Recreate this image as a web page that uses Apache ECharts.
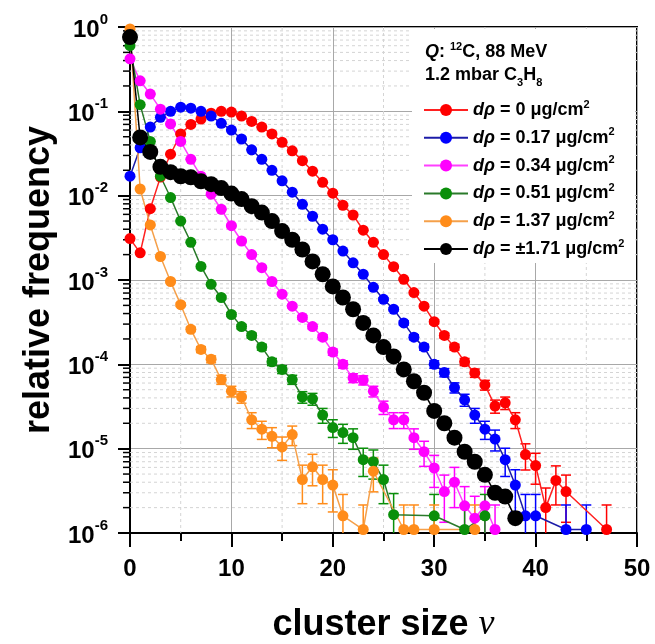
<!DOCTYPE html>
<html>
<head>
<meta charset="utf-8">
<title>cluster size distribution</title>
<script src="https://cdn.jsdelivr.net/npm/echarts@6/dist/echarts.min.js"></script>
<style>
  html, body { margin: 0; padding: 0; background: #fff; }
  #chart { width: 655px; height: 644px; }
</style>
</head>
<body>
<div id="chart"></div>
<script>
// cluster size nu (index into the value arrays below)
const clusterSizes = [0, 1, 2, 3, 4, 5, 6, 7, 8, 9, 10, 11, 12, 13, 14, 15, 16, 17, 18, 19,
  20, 21, 22, 23, 24, 25, 26, 27, 28, 29, 30, 31, 32, 33, 34, 35, 36, 37, 38, 39,
  40, 41, 42, 43, 44, 45, 46, 47];

// relative frequency for each d_rho, null = no event at that cluster size
const freq0 = [3.1e-3, 2.1e-3, 7.0e-3, 1.66e-2, 3.1e-2, 5.4e-2, 7.0e-2, 8.1e-2, 9.5e-2, 1.0e-1,
  9.8e-2, 8.8e-2, 7.6e-2, 6.5e-2, 5.4e-2, 4.3e-2, 3.4e-2, 2.6e-2, 1.95e-2, 1.44e-2,
  1.07e-2, 7.7e-3, 5.9e-3, 3.9e-3, 2.8e-3, 2.0e-3, 1.44e-3, 1.02e-3, 7.1e-4, 4.9e-4,
  3.2e-4, 2.2e-4, 1.6e-4, 1.07e-4, 7.9e-5, 5.7e-5, 3.2e-5, 3.5e-5, 2.2e-5, 8.5e-6,
  6.3e-6, 2.0e-6, 4.2e-6, 3.1e-6, null, null, null, 1.1e-6];
const freq017 = [1.7e-2, 3.7e-2, 6.5e-2, 8.5e-2, 1.0e-1, 1.12e-1, 1.09e-1, 1.0e-1, 8.8e-2, 7.2e-2,
  6.0e-2, 4.7e-2, 3.5e-2, 2.7e-2, 2.0e-2, 1.5e-2, 1.1e-2, 7.9e-3, 5.7e-3, 4.0e-3,
  3.0e-3, 2.2e-3, 1.6e-3, 1.17e-3, 8.2e-4, 5.9e-4, 4.5e-4, 3.1e-4, 2.1e-4, 1.6e-4,
  1.0e-4, 8.0e-5, 5.3e-5, 3.8e-5, 2.5e-5, 1.7e-5, 1.3e-5, 7.4e-6, 3.7e-6, 1.6e-6,
  1.6e-6, null, null, 1.1e-6, null, 1.1e-6];
const freq034 = [0.42, 0.23, 0.16, 0.106, 0.071, 0.044, 0.027, 0.017, 1.04e-2, 6.9e-3,
  4.4e-3, 2.9e-3, 2.0e-3, 1.4e-3, 9.6e-4, 6.8e-4, 4.9e-4, 3.6e-4, 2.8e-4, 2.1e-4,
  1.4e-4, 1.0e-4, 6.9e-5, 6.5e-5, 4.8e-5, 3.1e-5, 2.2e-5, 2.2e-5, 1.35e-5, 9.2e-6,
  5.9e-6, 3.1e-6, 4.0e-6, 2.1e-6, 1.5e-6, 2.1e-6, 1.1e-6];
const freq051 = [0.6, 0.12, 0.044, 0.017, 9.5e-3, 5.0e-3, 2.8e-3, 1.45e-3, 8.9e-4, 6.2e-4,
  3.9e-4, 2.8e-4, 2.2e-4, 1.6e-4, 1.07e-4, 8.7e-5, 6.6e-5, 4.1e-5, 3.9e-5, 2.5e-5,
  1.78e-5, 1.55e-5, 1.35e-5, 7.4e-6, 7.0e-6, 4.3e-6, 1.65e-6, null, null, null,
  1.6e-6, null, null, 1.1e-6, null, 1.6e-6];
const freq137 = [0.95, 1.2e-2, 4.5e-3, 1.9e-3, 9.6e-4, 5.1e-4, 2.6e-4, 1.5e-4, 1.15e-4, 6.6e-5,
  4.8e-5, 4.1e-5, 2.2e-5, 1.7e-5, 1.4e-5, 1.05e-5, 1.47e-5, 4.3e-6, 6.1e-6, 4.3e-6,
  3.7e-6, 1.6e-6, null, 1.1e-6, 5.4e-6, null, null, 1.1e-6, 1.1e-6, null,
  1.1e-6, null, null, null, 1.1e-6];
const freq171 = [0.76, 0.049, 0.033, 0.022, 0.019, 0.017, 0.0165, 0.0148, 0.0137, 0.0123,
  0.0106, 0.0091, 0.0075, 0.0063, 0.0050, 3.8e-3, 3.0e-3, 2.3e-3, 1.66e-3, 1.17e-3,
  8.4e-4, 6.2e-4, 4.5e-4, 3.1e-4, 2.2e-4, 1.6e-4, 1.24e-4, 8.7e-5, 6.3e-5, 4.6e-5,
  2.8e-5, 2.0e-5, 1.35e-5, 9.2e-6, 7.0e-6, 4.9e-6, 3.0e-6, 2.7e-6, 1.5e-6];

const densityLabels = ['0', '0.17', '0.34', '0.51', '1.37', '\u00b11.71'];
const xMinorTicks = [5, 15, 25, 35, 45];
const yDecades = [1e-6, 1e-5, 1e-4, 1e-3, 1e-2, 1e-1];
const yMinorSteps = [2, 3, 4, 5, 6, 7, 8, 9];

// one event ~ 1e-6, error bars are counting statistics
const oneEvent = 1e-6;

const FONT = '"Liberation Sans", Arial, Helvetica, sans-serif';

const sets = [
  { values: freq0,   color: '#ff0000', line: '#ff2020', size: 11, err: true },
  { values: freq017, color: '#0000ff', line: '#1c1ca8', size: 11, err: true },
  { values: freq034, color: '#ff00ff', line: '#ff40ff', size: 11, err: true },
  { values: freq051, color: '#0a8f0a', line: '#2a7a2a', size: 11, err: true },
  { values: freq137, color: '#ff8c1a', line: '#f5a04a', size: 11, err: true },
  { values: freq171, color: '#000000', line: '#000000', size: 16, err: false }
];

function seriesName(i) {
  return 'd\u03c1 = ' + densityLabels[i] + ' \u03bcg/cm2';
}

function points(values) {
  const out = [];
  values.forEach((v, i) => {
    if (v != null) out.push([clusterSizes[i], v]);
  });
  return out;
}

function errorBars(set, i) {
  const items = points(set.values).map(p => {
    const s = Math.sqrt(p[1] * oneEvent);
    return [p[0], p[1], Math.max(p[1] - s, 1e-8), p[1] + s];
  });
  return {
    type: 'custom',
    name: 'err' + i,
    clip: true,
    silent: true,
    z: 2,
    encode: { x: 0, y: 1 },
    renderItem: function (params, api) {
      const x = api.value(0);
      const lo = api.coord([x, api.value(2)]);
      const hi = api.coord([x, api.value(3)]);
      const w = 5;
      const style = { stroke: set.color, lineWidth: 1.5, fill: null };
      return {
        type: 'group',
        children: [
          { type: 'line', shape: { x1: lo[0], y1: lo[1], x2: hi[0], y2: hi[1] }, style: style },
          { type: 'line', shape: { x1: hi[0] - w, y1: hi[1], x2: hi[0] + w, y2: hi[1] }, style: style },
          { type: 'line', shape: { x1: lo[0] - w, y1: lo[1], x2: lo[0] + w, y2: lo[1] }, style: style }
        ]
      };
    },
    data: items
  };
}

let yMinor = [];
yDecades.forEach(d => yMinorSteps.forEach(m => yMinor.push(d * m)));

const series = [];

// minor grid lines + minor ticks on the log axis (2..9 of each decade)
series.push({
  type: 'custom',
  silent: true,
  clip: false,
  z: 1,
  encode: { x: 0, y: 1 },
  renderItem: function (params, api) {
    const p = api.coord([0, api.value(1)]);
    const cs = params.coordSys;
    return {
      type: 'group',
      children: [
        { type: 'line', shape: { x1: cs.x, y1: p[1], x2: cs.x + cs.width, y2: p[1] },
          style: { stroke: '#d4d4d4', lineWidth: 1, lineDash: [3, 3] } },
        { type: 'line', shape: { x1: cs.x - 7, y1: p[1], x2: cs.x, y2: p[1] },
          style: { stroke: '#000', lineWidth: 1.5 } }
      ]
    };
  },
  data: yMinor.map(v => [0, v])
});

// minor grid lines along x
series.push({
  type: 'custom',
  silent: true,
  clip: false,
  z: 1,
  encode: { x: 0, y: 1 },
  renderItem: function (params, api) {
    const p = api.coord([api.value(0), 1]);
    const cs = params.coordSys;
    return {
      type: 'line',
      shape: { x1: p[0], y1: cs.y, x2: p[0], y2: cs.y + cs.height },
      style: { stroke: '#d4d4d4', lineWidth: 1, lineDash: [3, 3] }
    };
  },
  data: xMinorTicks.map(v => [v, 1])
});

sets.forEach((set, i) => {
  if (set.err) series.push(errorBars(set, i));
  series.push({
    name: seriesName(i),
    type: 'line',
    data: points(set.values),
    symbol: 'circle',
    symbolSize: set.size,
    showAllSymbol: true,
    clip: true,
    z: 3,
    lineStyle: { color: set.line, width: 1.5 },
    itemStyle: { color: set.color },
    emphasis: { disabled: true },
    animation: false
  });
});

const chart = echarts.init(document.getElementById('chart'), null, { renderer: 'canvas' });

const option = {
  animation: false,
  backgroundColor: '#fff',
  textStyle: { fontFamily: FONT },
  grid: {
    left: 130, right: 18, top: 27, bottom: 111,
    outerBoundsMode: 'none',
    containLabel: false,
    show: true, borderColor: '#000', borderWidth: 2
  },
  legend: {
    data: sets.map((s, i) => seriesName(i)),
    orient: 'vertical',
    left: 418,
    top: 94,
    itemWidth: 44,
    itemHeight: 15,
    itemGap: 7.8,
    selectedMode: false,
    z: 6,
    formatter: function (name) {
      const i = sets.findIndex((s, k) => seriesName(k) === name);
      return '{i|d\u03c1}{t| = ' + densityLabels[i] + ' \u03bcg/cm}{s|2}';
    },
    textStyle: {
      color: '#000',
      fontSize: 18,
      fontWeight: 'bold',
      fontFamily: FONT,
      rich: {
        i: { fontSize: 18, fontWeight: 'bold', fontStyle: 'italic', fontFamily: FONT, color: '#000', lineHeight: 22 },
        t: { fontSize: 18, fontWeight: 'bold', fontFamily: FONT, color: '#000', lineHeight: 22 },
        s: { fontSize: 11, fontWeight: 'bold', fontFamily: FONT, color: '#000', verticalAlign: 'top', lineHeight: 12 }
      }
    }
  },
  graphic: [
    {
      // white box behind the legend, hides the grid there
      type: 'rect', z: 2.5, silent: true,
      shape: { x: 412, y: 29, width: 223, height: 234 },
      style: { fill: '#fff' }
    },
    {
      type: 'text', left: 425, top: 41, z: 7, silent: true,
      style: {
        text: '{q|Q}{t|: }{s|12}{t|C, 88 MeV}',
        rich: {
          q: { fontSize: 18, fontWeight: 'bold', fontStyle: 'italic', fontFamily: FONT, fill: '#000', lineHeight: 22 },
          t: { fontSize: 18, fontWeight: 'bold', fontFamily: FONT, fill: '#000', lineHeight: 22 },
          s: { fontSize: 11, fontWeight: 'bold', fontFamily: FONT, fill: '#000', verticalAlign: 'top', lineHeight: 12 }
        }
      }
    },
    {
      type: 'text', left: 425, top: 66, z: 7, silent: true,
      style: {
        text: '{t|1.2 mbar C}{b|3}{t|H}{b|8}',
        rich: {
          t: { fontSize: 18, fontWeight: 'bold', fontFamily: FONT, fill: '#000', lineHeight: 22, verticalAlign: 'top' },
          b: { fontSize: 11, fontWeight: 'bold', fontFamily: FONT, fill: '#000', verticalAlign: 'bottom', lineHeight: 12 }
        }
      }
    }
  ],
  xAxis: [
    {
      type: 'value', min: 0, max: 50, interval: 10,
      name: 'cluster size {n|\u03bd}',
      nameLocation: 'middle',
      nameGap: 74,
      nameTextStyle: {
        fontSize: 36, fontWeight: 'bold', fontFamily: FONT, color: '#000',
        rich: {
          n: { fontSize: 36, fontStyle: 'italic', fontWeight: 'normal', fontFamily: '"Liberation Serif", "DejaVu Serif", serif', color: '#000' }
        }
      },
      axisLine: { show: true, onZero: false, lineStyle: { color: '#000', width: 2 } },
      axisTick: { show: true, length: 14, lineStyle: { color: '#000', width: 2 } },
      axisLabel: { fontSize: 24, fontWeight: 'bold', color: '#000', fontFamily: FONT, margin: 24 },
      splitLine: { show: true, lineStyle: { color: '#a8a8a8', width: 1 } }
    },
    {
      type: 'value', min: 0, max: 50, interval: 5, position: 'bottom',
      axisLine: { show: false },
      axisTick: { show: true, length: 8, lineStyle: { color: '#000', width: 2 } },
      axisLabel: { show: false },
      splitLine: { show: false }
    }
  ],
  yAxis: [
    {
      type: 'log', logBase: 10, min: 1e-6, max: 1,
      name: 'relative frequency',
      nameLocation: 'middle',
      nameGap: 72,
      nameTextStyle: { fontSize: 36, fontWeight: 'bold', fontFamily: FONT, color: '#000' },
      axisLine: { show: true, onZero: false, lineStyle: { color: '#000', width: 2 } },
      axisTick: { show: true, length: 12, lineStyle: { color: '#000', width: 2 } },
      axisLabel: {
        margin: 22,
        formatter: function (v) {
          return '{b|10}{e|' + Math.round(Math.log10(v)) + '}';
        },
        rich: {
          b: { fontSize: 24, fontWeight: 'bold', fontFamily: FONT, color: '#000', lineHeight: 30, verticalAlign: 'bottom' },
          e: { fontSize: 15, fontWeight: 'bold', fontFamily: FONT, color: '#000', lineHeight: 16, verticalAlign: 'top' }
        }
      },
      splitLine: { show: true, lineStyle: { color: '#a8a8a8', width: 1 } }
    }
  ],
  series: series
};

chart.setOption(option);
window.addEventListener('resize', function () {
  chart.resize();
});
</script>
</body>
</html>
